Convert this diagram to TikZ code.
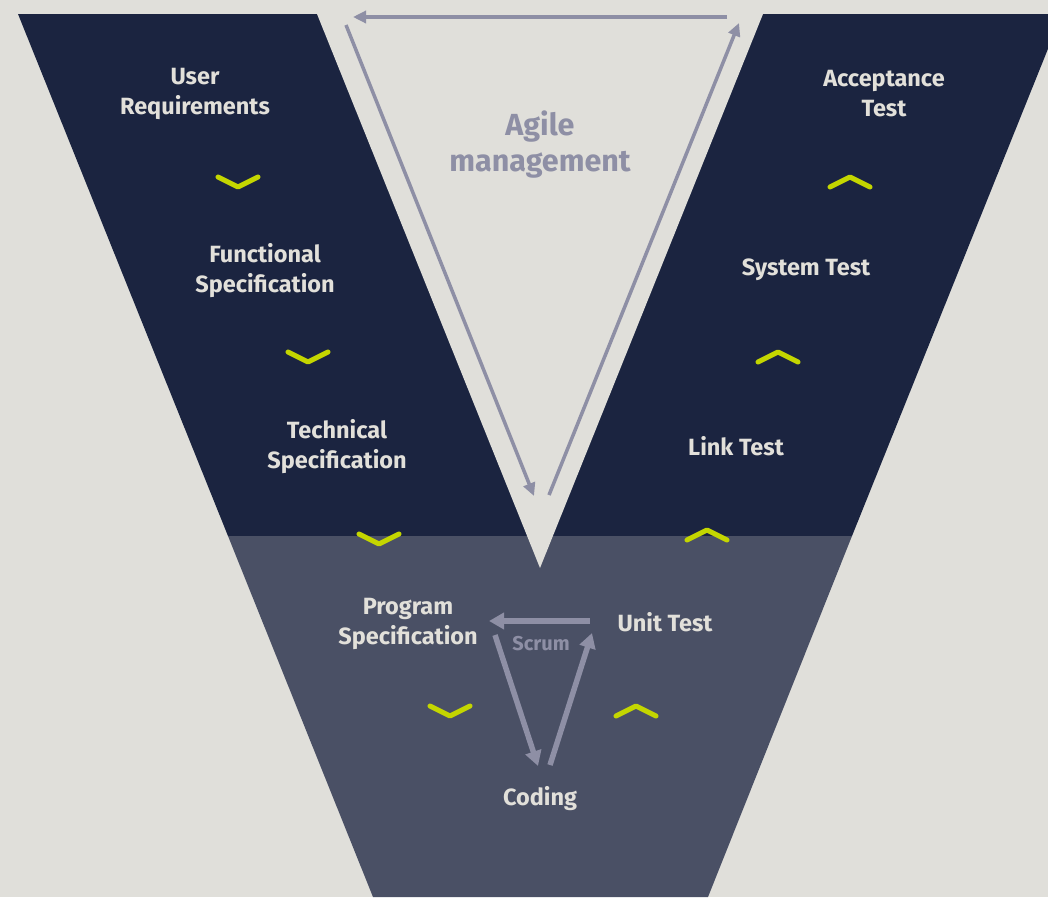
\documentclass[tikz,border=0pt]{standalone}
\usepackage{fontspec}
\setmainfont{Fira Sans}
\usetikzlibrary{arrows.meta}
\definecolor{bgc}{HTML}{E0DFDA}
\definecolor{navy}{HTML}{1B2440}
\definecolor{slate}{HTML}{4A5065}
\definecolor{agray}{HTML}{8E8FA5}
\definecolor{lime}{HTML}{C4D600}
\definecolor{txt}{HTML}{E2E0DA}
\tikzset{
  lbl/.style={text=txt, font=\fontsize{23.5}{30}\selectfont\bfseries, align=center, inner sep=0pt},
  chev/.style={draw=lime, line width=5pt, line cap=round, line join=round},
  agilearrow/.style={draw=agray, line width=3.5pt, -{Triangle[length=13pt,width=12pt]}},
  scrumarrow/.style={draw=agray, line width=5.5pt, -{Triangle[length=15pt,width=16pt]}}
}
\begin{document}
\begin{tikzpicture}[x=1pt,y=-1pt]
\useasboundingbox (0,0) rectangle (1048,897);
\clip (0,0) rectangle (1048,897);
\fill[bgc] (0,0) rectangle (1048,897);
% V shape
\fill[navy] (18,14) -- (1062,14) -- (852,536) -- (228,536) -- cycle;
\fill[slate] (228,536) -- (852,536) -- (708,897) -- (373,897) -- cycle;
\fill[bgc] (317,14) -- (763,14) -- (540,568) -- cycle;
% labels
\node[lbl] (ur) at (195,94) {User\\Requirements};
\node[lbl] (fs) at (265,271) {Functional\\Specification};
\node[lbl] (ts) at (337,447) {Technical\\Specification};
\node[lbl] (ps) at (408,624) {Program\\Specification};
\node[lbl] (cd) at (540,799) {Coding};
\node[lbl] (ut) at (665,622) {Unit Test};
\node[lbl] (lt) at (736,446) {Link Test};
\node[lbl] (st) at (806,270) {System Test};
\node[lbl] (at) at (884,94) {Acceptance\\Test};
\node[text=agray, font=\fontsize{30.5}{36}\selectfont\bfseries, align=center, inner sep=0pt] (ag) at (540,145) {Agile\\management};
\node[text=agray, font=\fontsize{20}{22}\selectfont\bfseries, inner sep=0pt] (sc) at (541,644) {Scrum};
% chevrons down
\draw[chev] (218,177) -- (238,187) -- (258,177);
\draw[chev] (288,352) -- (308,362) -- (328,352);
\draw[chev] (359,534) -- (379,544) -- (399,534);
\draw[chev] (430,706) -- (450,716) -- (470,706);
% chevrons up
\draw[chev] (830,187) -- (850,177) -- (870,187);
\draw[chev] (758,362) -- (778,352) -- (798,362);
\draw[chev] (687,540) -- (707,530) -- (727,540);
\draw[chev] (616,716) -- (636,706) -- (656,716);
% agile arrows
\coordinate (a1) at (727,17);
\coordinate (a2) at (353,17);
\coordinate (b1) at (346,25);
\coordinate (b2) at (534,496);
\coordinate (c1) at (549,495);
\coordinate (c2) at (739,23);
\draw[agilearrow] (a1) -- (a2);
\draw[agilearrow] (b1) -- (b2);
\draw[agilearrow] (c1) -- (c2);
% scrum arrows
\coordinate (s1) at (590,621);
\coordinate (s2) at (489,621);
\coordinate (s3) at (495,635);
\coordinate (s4) at (538,766);
\coordinate (s5) at (550,765);
\coordinate (s6) at (592,633);
\draw[scrumarrow] (s1) -- (s2);
\draw[scrumarrow] (s3) -- (s4);
\draw[scrumarrow] (s5) -- (s6);
\end{tikzpicture}
\end{document}
